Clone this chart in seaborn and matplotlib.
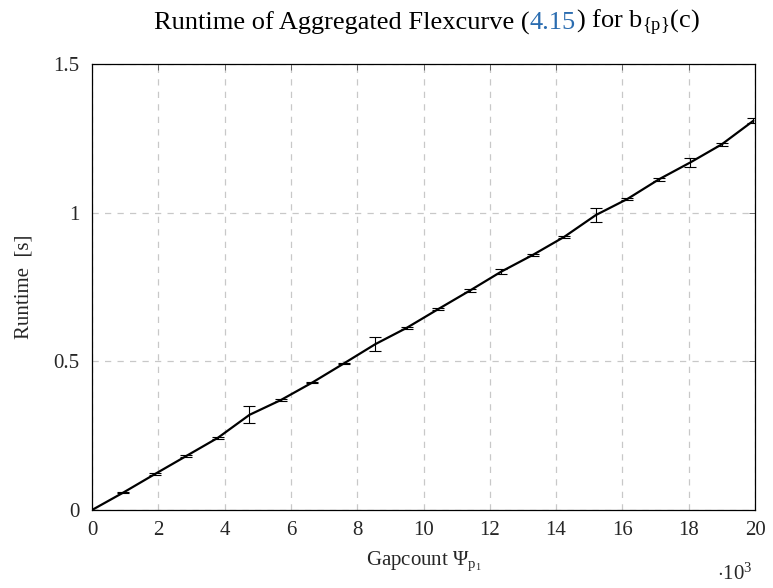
import matplotlib
matplotlib.use("Agg")
import matplotlib.pyplot as plt
import seaborn as sns
import pandas as pd

gapcount_k = [0, 0.95, 1.9, 2.85, 3.8, 4.75, 5.7, 6.65, 7.6, 8.55, 9.5,
              10.45, 11.4, 12.35, 13.3, 14.25, 15.2, 16.15, 17.1, 18.05, 19.0, 19.95]
runtime_s = [0.0, 0.059, 0.121, 0.182, 0.243, 0.320, 0.370, 0.429, 0.493, 0.558, 0.613,
             0.676, 0.738, 0.802, 0.858, 0.919, 0.992, 1.046, 1.112, 1.169, 1.230, 1.309]
runtime_err = [0.0, 0.003, 0.003, 0.003, 0.004, 0.029, 0.004, 0.003, 0.003, 0.024, 0.004,
               0.003, 0.005, 0.007, 0.004, 0.004, 0.023, 0.005, 0.006, 0.014, 0.005, 0.008]
xticks = [0, 2, 4, 6, 8, 10, 12, 14, 16, 18, 20]
yticks = [0, 0.5, 1, 1.5]
ytick_labels = ["0", "0.5", "1", "1.5"]

df = pd.DataFrame({"x": gapcount_k, "y": runtime_s, "err": runtime_err})

sns.set_theme(style="white")
plt.rcParams["font.family"] = ["Liberation Serif", "DejaVu Serif"]
plt.rcParams["mathtext.fontset"] = "custom"
plt.rcParams["mathtext.rm"] = "Liberation Serif"
plt.rcParams["mathtext.it"] = "Liberation Serif:italic"
plt.rcParams["mathtext.bf"] = "Liberation Serif:bold"

fig = plt.figure(figsize=(7.73, 5.88), dpi=100)
ax = fig.add_axes([92 / 773, 78 / 588, 663 / 773, 446 / 588])

ax.errorbar(df["x"], df["y"], yerr=df["err"], fmt="none", ecolor="black",
            elinewidth=0.8, capsize=4, capthick=0.8, zorder=3)
sns.lineplot(data=df, x="x", y="y", ax=ax, color="black", linewidth=1.6, zorder=4)

ax.set_xlim(0, 20)
ax.set_ylim(0, 1.5)
ax.set_xticks(xticks)
ax.set_xticklabels([str(t) for t in xticks])
ax.set_yticks(yticks)
ax.set_yticklabels(ytick_labels)
ax.tick_params(axis="both", direction="in", length=4, width=0.6, color="#555555",
               top=True, right=True, labelsize=15)
ax.tick_params(axis="x", pad=8)
ax.tick_params(axis="y", pad=9)
ax.grid(True, color="#c8c8c8", linestyle=(0, (5, 5)), linewidth=0.9)
for s in ax.spines.values():
    s.set_color("black")
    s.set_linewidth(0.9)

ax.set_xlabel(r"Gapcount $\Psi_{\mathrm{p}_{\mathrm{1}}}$", fontsize=15, labelpad=7)
ax.set_ylabel("Runtime  [s]", fontsize=15, labelpad=14)
fig.text(735 / 773, 1 - 574 / 588, r"$\cdot10^{3}$", fontsize=15, ha="center", va="center")

# Title with coloured reference
pieces = [("Runtime of Aggregated Flexcurve (", "black"),
          ("4.15", "#2a6cb0"),
          (r") for b$_{\{\mathrm{p}\}}$(c)", "black")]
fig.canvas.draw()
renderer = fig.canvas.get_renderer()
texts = []
for s, c in pieces:
    t = fig.text(0, 1 - 23 / 588, s, color=c, fontsize=19, va="center", ha="left")
    texts.append(t)
widths = [t.get_window_extent(renderer).width for t in texts]
total = sum(widths)
pos = 427 - total / 2
for t, w in zip(texts, widths):
    t.set_x(pos / 773)
    pos += w

fig.savefig("out.png", dpi=100)
